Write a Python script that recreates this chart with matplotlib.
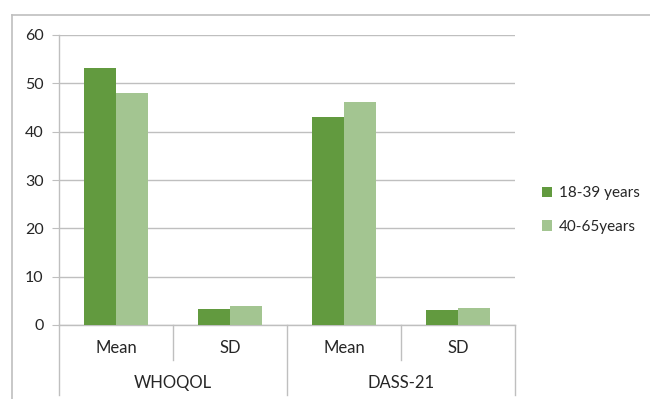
import numpy as np
import matplotlib
matplotlib.use("Agg")
import matplotlib.pyplot as plt
import matplotlib.transforms as mtransforms
from matplotlib.lines import Line2D

# data
groups = ["WHOQOL", "DASS-21"]
stats = ["Mean", "SD", "Mean", "SD"]
series_names = ["18-39 years", "40-65years"]
young = [53.2, 3.35, 43.0, 3.2]
older = [48.1, 3.85, 46.1, 3.55]

dark = "#629A3F"
light = "#A3C591"
grid_c = "#BFBFBF"
txt = "#262626"

plt.rcParams["font.family"] = ["Lato", "DejaVu Sans"]
plt.rcParams["font.size"] = 11

fig = plt.figure(figsize=(6.5, 3.99), dpi=100)
ax = fig.add_axes([59 / 650, 74 / 399, 456 / 650, 290 / 399])

x = np.arange(len(stats))
w = 0.285
ax.bar(x - w / 2, young, w, color=dark, label=series_names[0], zorder=3)
ax.bar(x + w / 2, older, w, color=light, label=series_names[1], zorder=3)

ax.set_xlim(-0.5, len(stats) - 0.5)
ax.set_ylim(0, 60)
ax.set_yticks(np.arange(0, 61, 10))
ax.yaxis.grid(True, color=grid_c, linewidth=1, zorder=0)
ax.set_xticks([])
for s in ["top", "right"]:
    ax.spines[s].set_visible(False)
for s in ["left", "bottom"]:
    ax.spines[s].set_color(grid_c)
    ax.spines[s].set_linewidth(1)
ax.tick_params(axis="y", length=5, color=grid_c, labelcolor=txt, pad=6,
               labelsize=11.5)

# two-level category axis under the plot
tr = mtransforms.blended_transform_factory(ax.transData, fig.transFigure)
for xv in [-0.5, 1.5, 3.5]:
    ax.add_line(Line2D([xv, xv], [74 / 399, 4 / 399], color=grid_c, lw=1,
                       transform=tr, clip_on=False))
for xv in [0.5, 2.5]:
    ax.add_line(Line2D([xv, xv], [74 / 399, 39 / 399], color=grid_c, lw=1,
                       transform=tr, clip_on=False))
for i, s in enumerate(stats):
    ax.text(i, 51 / 399, s, transform=tr, ha="center", va="center",
            color=txt, fontsize=12)
for i, g in enumerate(groups):
    ax.text(0.5 + 2 * i, 16 / 399, g, transform=tr, ha="center", va="center",
            color=txt, fontsize=12)

# outer chart border (top and left only visible)
fig.add_artist(Line2D([12 / 650, 1], [384 / 399, 384 / 399], color=grid_c, lw=1.2))
fig.add_artist(Line2D([12 / 650, 12 / 650], [384 / 399, 0], color=grid_c, lw=1.2))

leg = ax.legend(loc="center left", bbox_to_anchor=(528 / 650, 189 / 399),
                bbox_transform=fig.transFigure, frameon=False,
                handlelength=0.7, handleheight=0.7, handletextpad=0.4,
                labelspacing=1.25)
for t in leg.get_texts():
    t.set_color(txt)

fig.savefig("out.png", dpi=100)
